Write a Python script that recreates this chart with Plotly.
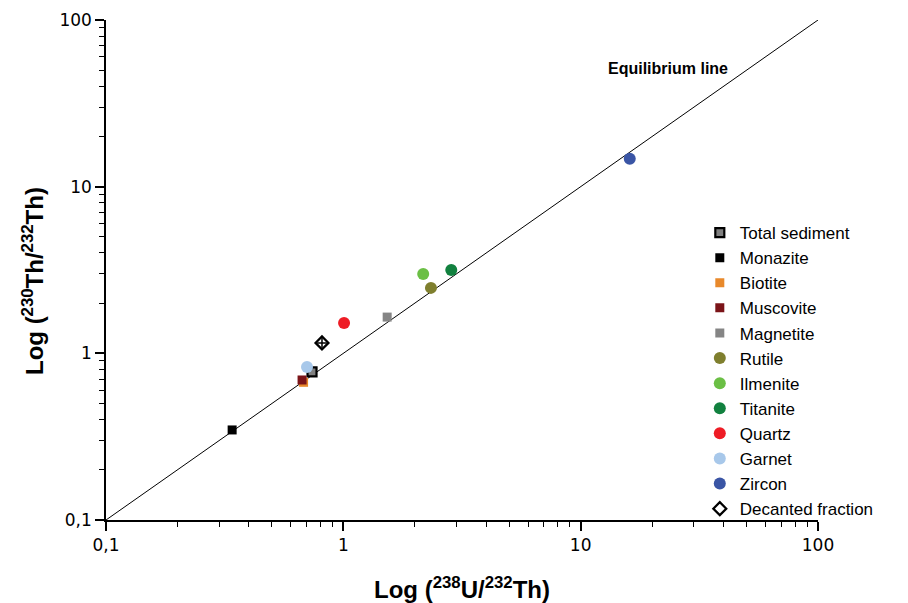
import plotly.graph_objects as go

# Data
names = ["Total sediment", "Monazite", "Biotite", "Muscovite", "Magnetite", "Rutile",
         "Ilmenite", "Titanite", "Quartz", "Garnet", "Zircon", "Decanted fraction"]
u_th = [0.738, 0.340, 0.68, 0.670, 1.53, 2.34, 2.17, 2.85, 1.007, 0.703, 16.1, 0.813]
th_th = [0.773, 0.347, 0.67, 0.692, 1.65, 2.47, 2.99, 3.16, 1.52, 0.828, 14.7, 1.155]
colors = ["#808080", "#000000", "#E8892B", "#7B1418", "#858585", "#7F7F2E",
          "#6BBF45", "#12813F", "#EE1C25", "#A8C8EA", "#3A55A5", "#ffffff"]
symbols = ["square", "square", "square", "square", "square", "circle",
           "circle", "circle", "circle", "circle", "circle", "diamond"]
eq_line = [0.1, 100]
tickvals = [0.1, 1, 10, 100]
ticktext = ["0,1", "1", "10", "100"]

fig = go.Figure()
fig.add_trace(go.Scatter(x=eq_line, y=eq_line, mode="lines",
                         line=dict(color="black", width=1), showlegend=False, hoverinfo="skip"))

for i, n in enumerate(names):
    if symbols[i] == "square":
        size = 9
    elif symbols[i] == "diamond":
        size = 10
    else:
        size = 12
    if n in ("Total sediment", "Decanted fraction"):
        mline = dict(color="black", width=2.2)
    else:
        mline = dict(width=0)
    fig.add_trace(go.Scatter(x=[u_th[i]], y=[th_th[i]], mode="markers", name=n,
                             marker=dict(symbol=symbols[i], size=size, color=colors[i], line=mline)))

# small cross inside the decanted marker on the plot
fig.add_trace(go.Scatter(x=[u_th[-1]], y=[th_th[-1]], mode="markers", showlegend=False,
                         marker=dict(symbol="cross-thin-open", size=7, color="black",
                                     line=dict(color="black", width=1.5))))

fig.add_annotation(x=1.37, y=1.712, xref="x", yref="y", text="<b>Equilibrium line</b>",
                   showarrow=False, font=dict(family="Arial, Liberation Sans", size=16, color="black"))

# y axis title as annotation (slightly below plot centre, as in reference)
fig.add_annotation(x=-0.1025, y=0.478, xref="paper", yref="paper", xanchor="center", yanchor="middle",
                   textangle=-90, showarrow=False,
                   text="<b>Log (<sup>230</sup>Th/<sup>232</sup>Th)</b>",
                   font=dict(family="Arial, Liberation Sans", size=24, color="black"))

axis_common = dict(type="log", tickvals=tickvals, ticktext=ticktext, ticks="outside", ticklen=9,
                   tickwidth=1.5, tickcolor="black", showline=True, linecolor="black", linewidth=1.5,
                   showgrid=False, zeroline=False, mirror=False, automargin=False,
                   minor=dict(ticks="outside", ticklen=5, tickcolor="black", tickwidth=1, dtick="D1", showgrid=False),
                   tickfont=dict(family="DejaVu Sans, Arial", size=17, color="black"))

fig.update_xaxes(range=[-1, 2], **axis_common,
                 title=dict(text="<b>Log (<sup>238</sup>U/<sup>232</sup>Th)</b>", standoff=27,
                            font=dict(family="Arial, Liberation Sans", size=24, color="black")))
fig.update_yaxes(range=[-1, 2], **axis_common)

fig.update_layout(width=900, height=595, plot_bgcolor="white", paper_bgcolor="white",
                  margin=dict(l=98, r=90, t=12, b=83, autoexpand=False),
                  legend=dict(x=0.834, y=0.61, xanchor="left", yanchor="top", bgcolor="rgba(0,0,0,0)",
                              font=dict(family="Arial, Liberation Sans", size=17, color="black"),
                              tracegroupgap=0, itemwidth=30))

fig.write_html("out.html")
